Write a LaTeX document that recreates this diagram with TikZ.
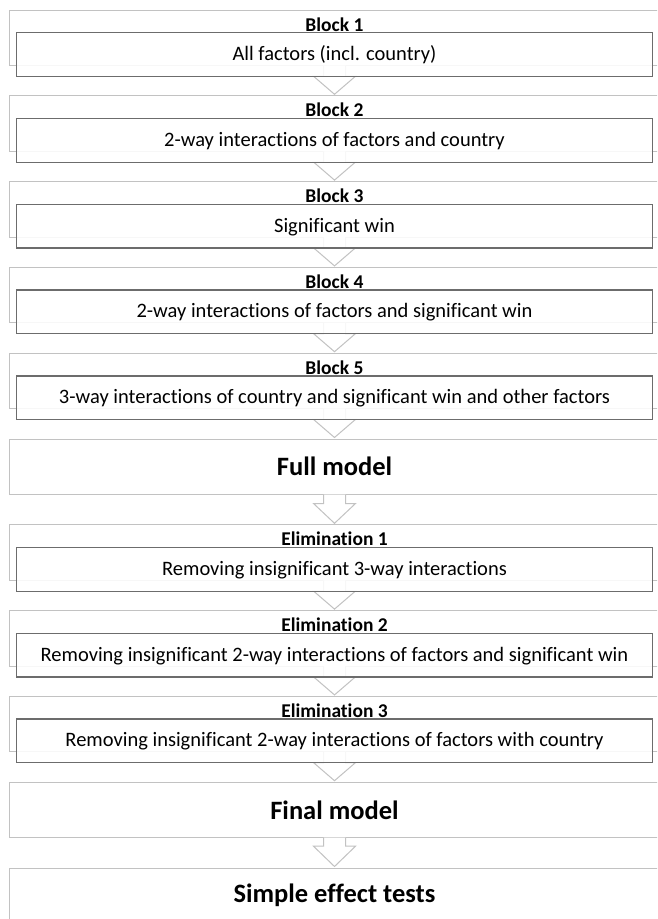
\documentclass[tikz,border=0pt]{standalone}
\usepackage{fontspec}
\setmainfont{Carlito}[Ligatures=NoCommon]
\usetikzlibrary{positioning,calc}

\definecolor{boxgray}{HTML}{C2C2C2}
\definecolor{edgegray}{HTML}{6C6C6C}

\newcommand{\flowarrow}[3]{%
	\fill[white] ($(#1.south -| mid)+(-11,0)$) -- ++(0,-#2) -- ++(-10,0) -- ($(#3.north -| mid)+(0,1.5)$) -- ($(#1.south -| mid)+(21,-#2)$) -- ++(-10,0) -- ++(0,#2) -- cycle;
	\draw[arrowline] ($(#1.south -| mid)+(-11,0)$) -- ++(0,-#2) -- ++(-10,0) -- ($(#3.north -| mid)+(0,1.5)$) -- ($(#1.south -| mid)+(21,-#2)$) -- ++(-10,0) -- ++(0,#2);
}

\begin{document}
\begin{tikzpicture}
	[
	x=1pt, y=1pt,
	node distance=30.3pt,
	outer/.style={rectangle,draw=boxgray,line width=1pt,minimum width=650.4pt,minimum height=55.5pt,inner sep=0pt,outer sep=0pt},
	inner/.style={rectangle,draw=edgegray,line width=1.3pt,fill=white,fill opacity=0.88,text opacity=1,minimum width=636pt,minimum height=43.7pt,inner sep=0pt,text height=14pt,text depth=2pt,font=\fontsize{20.5}{23}\selectfont},
	head/.style={font=\fontsize{19.5}{22}\selectfont\bfseries,inner sep=0pt,anchor=base},
	big/.style={font=\fontsize{26.5}{30}\selectfont\bfseries},
	arrowline/.style={draw=boxgray,line width=1pt,line join=miter},
	]
	\useasboundingbox (0,0) rectangle (657,-919);
	\clip (0,0) rectangle (657,-919);
	\fill[white] (0,0) rectangle (657,-919);
	\coordinate (mid) at (334.5,0);

	\node[outer,anchor=north west] (b1) at (9.3,-10) {};
	\node[outer,below=of b1] (b2) {};
	\node[outer,below=of b2] (b3) {};
	\node[outer,below=of b3] (b4) {};
	\node[outer,below=of b4] (b5) {};
	\node[outer,big,below=of b5] (full) {Full model};
	\node[outer,below=of full] (e1) {};
	\node[outer,below=of e1] (e2) {};
	\node[outer,below=of e2] (e3) {};
	\node[outer,big,below=of e3] (final) {Final model};
	\node[outer,big,below=of final] (tests) {Simple effect tests};

	\flowarrow{b1}{10.7}{b2}
	\flowarrow{b2}{10.7}{b3}
	\flowarrow{b3}{10.7}{b4}
	\flowarrow{b4}{10.7}{b5}
	\flowarrow{b5}{10.7}{full}
	\flowarrow{full}{9}{e1}
	\flowarrow{e1}{10.7}{e2}
	\flowarrow{e2}{10.7}{e3}
	\flowarrow{e3}{10.7}{final}
	\flowarrow{final}{8.5}{tests}

	\node[inner,below=22pt of b1.north,anchor=north] (b1in) {All factors (incl. country)};
	\node[inner,below=22pt of b2.north,anchor=north] (b2in) {2-way interactions of factors and country};
	\node[inner,below=22pt of b3.north,anchor=north] (b3in) {Significant win};
	\node[inner,below=22pt of b4.north,anchor=north] (b4in) {2-way interactions of factors and significant win};
	\node[inner,below=22pt of b5.north,anchor=north] (b5in) {3-way interactions of country and significant win and other factors};
	\node[inner,below=22pt of e1.north,anchor=north] (e1in) {Removing insignificant 3-way interactions};
	\node[inner,below=22pt of e2.north,anchor=north] (e2in) {Removing insignificant 2-way interactions of factors and significant win};
	\node[inner,below=22pt of e3.north,anchor=north] (e3in) {Removing insignificant 2-way interactions of factors with country};

	\node[head] (b1h) at ([yshift=1pt]b1in.north) {Block 1};
	\node[head] (b2h) at ([yshift=1pt]b2in.north) {Block 2};
	\node[head] (b3h) at ([yshift=1pt]b3in.north) {Block 3};
	\node[head] (b4h) at ([yshift=1pt]b4in.north) {Block 4};
	\node[head] (b5h) at ([yshift=1pt]b5in.north) {Block 5};
	\node[head] (e1h) at ([yshift=1pt]e1in.north) {Elimination 1};
	\node[head] (e2h) at ([yshift=1pt]e2in.north) {Elimination 2};
	\node[head] (e3h) at ([yshift=1pt]e3in.north) {Elimination 3};
\end{tikzpicture}
\end{document}
